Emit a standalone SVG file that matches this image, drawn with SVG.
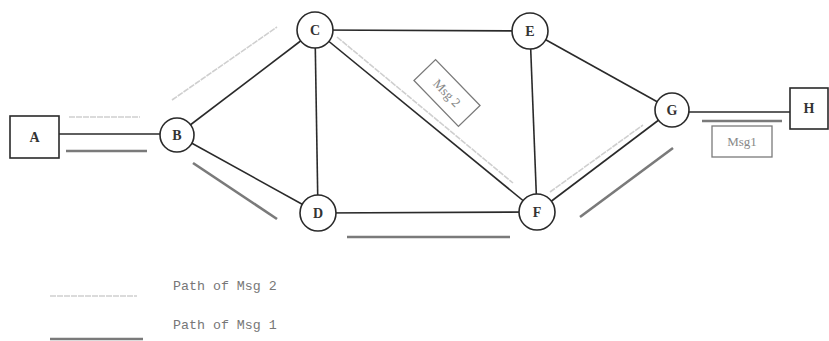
<svg xmlns="http://www.w3.org/2000/svg" width="829" height="341" viewBox="0 0 829 341">
<style>
.edge{stroke:#2a2a2a;stroke-width:1.6;fill:none}
.node{fill:#fff;stroke:#2a2a2a;stroke-width:1.6}
.lbl{font-family:"Liberation Serif",serif;font-size:14px;font-weight:bold;fill:#333;text-anchor:middle;dominant-baseline:central}
.m1{stroke:#7a7a7a;stroke-width:2.6;fill:none}
.m2{stroke:#cfcfcf;stroke-width:1.6;fill:none;stroke-dasharray:6 1}
.tag{fill:#fff;stroke:#7a7a7a;stroke-width:1.3}
.tagt{font-family:"Liberation Serif",serif;font-size:13px;fill:#888;text-anchor:middle;dominant-baseline:central}
.leg{font-family:"Liberation Mono",monospace;font-size:13.3px;fill:#777}
</style>
<rect width="829" height="341" fill="#fff"/>
<g id="connectors">
<line class="edge" x1="59" y1="134" x2="177" y2="134"/>
<line class="edge" x1="177" y1="135" x2="315" y2="30"/>
<line class="edge" x1="177" y1="135" x2="318" y2="213"/>
<line class="edge" x1="315" y1="30" x2="530" y2="31"/>
<line class="edge" x1="315" y1="30" x2="318" y2="213"/>
<line class="edge" x1="315" y1="30" x2="537" y2="212"/>
<line class="edge" x1="318" y1="213" x2="537" y2="212"/>
<line class="edge" x1="530" y1="31" x2="537" y2="212"/>
<line class="edge" x1="530" y1="31" x2="672" y2="110"/>
<line class="edge" x1="537" y1="212" x2="672" y2="110"/>
<line class="edge" x1="672" y1="112" x2="790" y2="112"/>
</g>
<g id="paths">
<line class="m2" x1="69" y1="117" x2="140" y2="117"/>
<line class="m1" x1="66" y1="151" x2="147" y2="151"/>
<line class="m2" x1="172" y1="100" x2="277" y2="27"/>
<line class="m1" x1="193" y1="163" x2="277" y2="219"/>
<line class="m2" x1="337" y1="37" x2="513" y2="183"/>
<line class="m1" x1="347" y1="237" x2="510" y2="237"/>
<line class="m2" x1="550" y1="192" x2="643" y2="125"/>
<line class="m1" x1="580" y1="217" x2="673" y2="148"/>
<line class="m1" x1="702" y1="121" x2="782" y2="121"/>
</g>
<g id="tag-msg2" transform="translate(447,93) rotate(46)">
<rect class="tag" x="-32" y="-15" width="64" height="30"/>
<text class="tagt" x="0" y="0">Msg 2</text>
</g>
<g id="tag-msg1">
<rect class="tag" x="712" y="126" width="60" height="31"/>
<text class="tagt" x="742" y="141.5">Msg1</text>
</g>
<g id="node-A"><rect class="node" x="10" y="116" width="49" height="42"/><text class="lbl" x="34.5" y="137">A</text></g>
<g id="node-B"><circle class="node" cx="177" cy="135" r="17"/><text class="lbl" x="177" y="135">B</text></g>
<g id="node-C"><circle class="node" cx="315" cy="30" r="18"/><text class="lbl" x="315" y="30">C</text></g>
<g id="node-D"><circle class="node" cx="318" cy="213" r="18"/><text class="lbl" x="318" y="213">D</text></g>
<g id="node-E"><circle class="node" cx="530" cy="31" r="18"/><text class="lbl" x="530" y="31">E</text></g>
<g id="node-F"><circle class="node" cx="537" cy="212" r="18"/><text class="lbl" x="537" y="212">F</text></g>
<g id="node-G"><circle class="node" cx="672" cy="110" r="17"/><text class="lbl" x="672" y="110">G</text></g>
<g id="node-H"><rect class="node" x="790" y="88" width="38" height="41"/><text class="lbl" x="809" y="108.5">H</text></g>
<g id="legend">
<line class="m2" x1="50" y1="296" x2="137" y2="296"/>
<text class="leg" x="173" y="290">Path of Msg 2</text>
<line class="m1" x1="50" y1="339" x2="143" y2="339"/>
<text class="leg" x="173" y="329">Path of Msg 1</text>
</g>
</svg>
